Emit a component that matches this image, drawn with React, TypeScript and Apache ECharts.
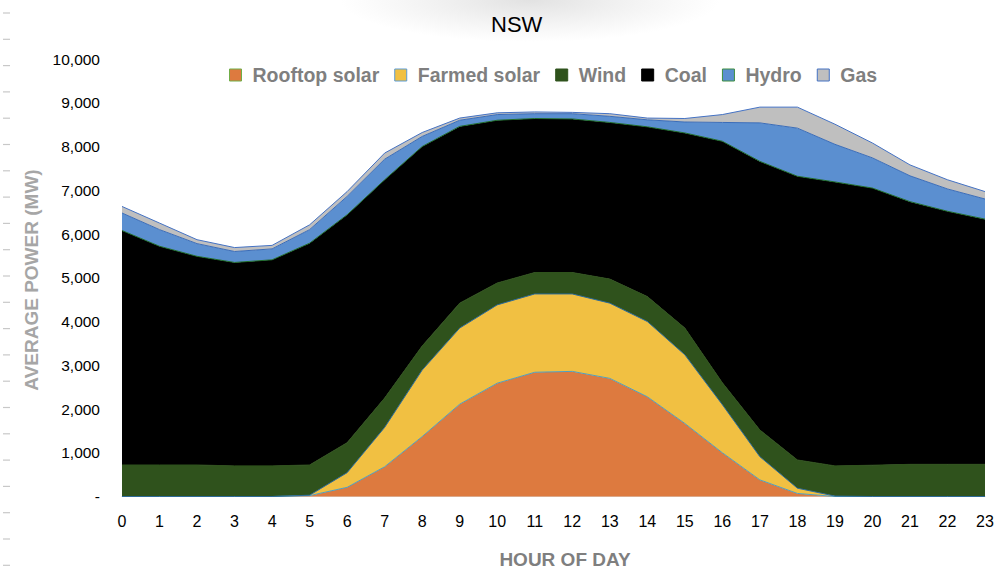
import React, { useEffect, useRef } from "react";
import * as echarts from "echarts";

const hours = ["0","1","2","3","4","5","6","7","8","9","10","11","12","13","14","15","16","17","18","19","20","21","22","23"];
const rooftopSolar = [0,0,0,0,0,20,210,680,1370,2110,2590,2840,2860,2700,2280,1670,1000,380,70,0,0,0,0,0];
const farmedSolar = [0,0,0,0,0,10,335,900,1520,1740,1790,1790,1770,1720,1720,1570,1100,530,120,10,0,0,0,0];
const wind = [720,720,720,700,700,690,685,670,550,570,500,490,490,550,570,610,500,610,645,690,715,735,735,735];
const coal = [5360,5000,4770,4650,4710,5070,5210,4990,4560,4040,3720,3520,3510,3580,3880,4460,5520,6140,6485,6490,6335,6005,5785,5605];
const hydro = [400,380,290,250,250,310,420,470,230,140,130,110,120,140,160,250,430,880,1100,860,690,590,510,460];
const gas = [150,150,90,90,80,110,110,140,90,50,40,40,30,60,40,80,180,360,480,460,340,250,210,170];

const seriesNames = ["Rooftop solar","Farmed solar","Wind","Coal","Hydro","Gas"];

export default function App() {
  const ref = useRef<HTMLDivElement>(null);
  useEffect(() => {
    document.body.style.margin = "0";
    const chart = echarts.init(ref.current!, null, { renderer: "svg" });
    const defs = [
      { name: seriesNames[0], data: rooftopSolar, fill: "#DD7A3F", line: "#4F9FC0", border: "#70AD47" },
      { name: seriesNames[1], data: farmedSolar, fill: "#F1C042", line: "#2E6A96", border: "#5B9BD5" },
      { name: seriesNames[2], data: wind, fill: "#2F521C", line: "#2F521C", border: "#2F521C" },
      { name: seriesNames[3], data: coal, fill: "#000000", line: "#1E6B2A", border: "#000000" },
      { name: seriesNames[4], data: hydro, fill: "#5B8FD0", line: "#3A6CB8", border: "#3E8E3E" },
      { name: seriesNames[5], data: gas, fill: "#BFBFBF", line: "#4472C4", border: "#4472C4" },
    ];
    const dashes: any[] = [];
    for (let i = 0; i < 22; i++) {
      const y = 13 + i * 26.3;
      dashes.push({ type: "line", shape: { x1: 3, y1: y, x2: 10, y2: y }, style: { stroke: "#c8c8c8", lineWidth: 1.2 } });
    }
    chart.setOption({
      animation: false,
      backgroundColor: "#ffffff",
      title: {
        text: "NSW",
        left: 486,
        top: 8,
        textStyle: { fontFamily: "Liberation Sans", fontSize: 22, fontWeight: "normal", color: "#000" },
      },
      graphic: [
        {
          type: "ellipse",
          shape: { cx: 530, cy: 0, rx: 190, ry: 42 },
          style: {
            fill: new echarts.graphic.RadialGradient(0.5, 0.5, 0.5, [
              { offset: 0, color: "rgba(190,190,190,0.45)" },
              { offset: 1, color: "rgba(200,200,200,0)" },
            ]),
          },
          z: -1,
        },
        ...dashes,
        {
          type: "text",
          x: 565,
          y: 559,
          style: {
            text: "HOUR OF DAY",
            fontFamily: "Liberation Sans",
            fontSize: 19,
            fontWeight: "bold",
            fill: "#7F7F7F",
            align: "center",
            verticalAlign: "middle",
          },
        },
        {
          type: "text",
          x: 31,
          y: 280,
          rotation: Math.PI / 2,
          style: {
            text: "AVERAGE POWER (MW)",
            fontFamily: "Liberation Sans",
            fontSize: 19,
            fontWeight: "bold",
            fill: "#A6A6A6",
            align: "center",
            verticalAlign: "middle",
          },
        },
      ],
      legend: {
        left: 224,
        top: 60,
        icon: "rect",
        itemWidth: 12,
        itemHeight: 12,
        itemGap: 15,
        textStyle: {
          fontFamily: "Liberation Sans",
          fontSize: 19.5,
          fontWeight: "bold",
          color: "#7F7F7F",
          padding: [0, 0, 0, 6],
        },
        data: defs.map((d) => ({ name: d.name, itemStyle: { color: d.fill, borderColor: d.border, borderWidth: 1 } })),
      },
      grid: { left: 122, right: 9, top: 59, bottom: 77.5, outerBoundsMode: "none" },
      xAxis: {
        type: "category",
        data: hours,
        boundaryGap: false,
        axisLine: { lineStyle: { color: "#D9D9D9" } },
        axisTick: { show: false },
        axisLabel: { fontFamily: "Liberation Sans", fontSize: 16, color: "#000", margin: 17, interval: 0 },
      },
      yAxis: {
        type: "value",
        min: 0,
        max: 10000,
        interval: 1000,
        splitLine: { show: false },
        axisLine: { show: false },
        axisTick: { show: false },
        axisLabel: {
          fontFamily: "Liberation Sans",
          fontSize: 15.5,
          color: "#000",
          margin: 22,
          formatter: (v: number) => (v === 0 ? "-" : v.toLocaleString("en-US")),
        },
      },
      series: defs.map((d) => ({
        name: d.name,
        type: "line",
        stack: "total",
        data: d.data,
        symbol: "none",
        lineStyle: { color: d.line, width: 1 },
        itemStyle: { color: d.fill, borderColor: d.border },
        areaStyle: { color: d.fill, opacity: 1 },
      })),
    });
    return () => chart.dispose();
  }, []);
  return <div ref={ref} style={{ width: 994, height: 574 }} />;
}
